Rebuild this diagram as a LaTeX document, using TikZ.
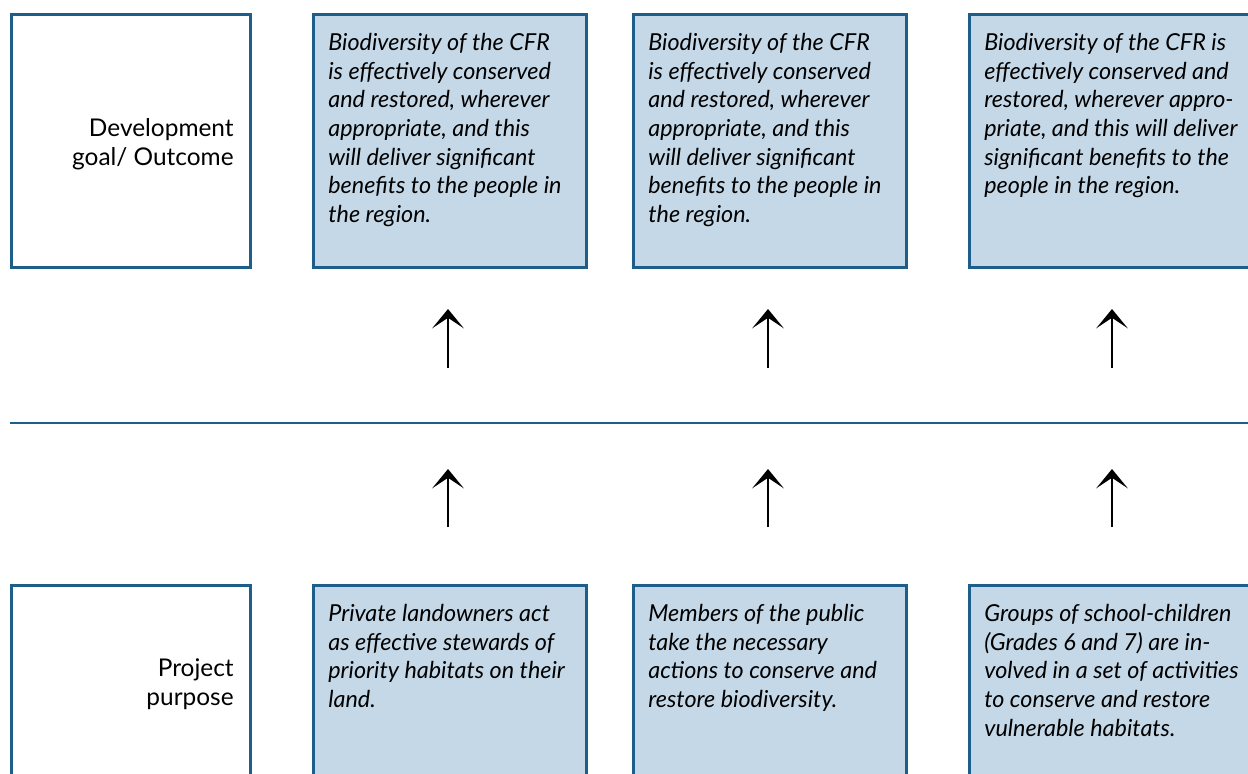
\documentclass[tikz,border=0pt]{standalone}
\usepackage{fontspec}
\setmainfont{Lato}
\usetikzlibrary{arrows.meta,positioning}

\definecolor{frameblue}{HTML}{1D5F8A}
\definecolor{boxfill}{HTML}{C5D8E7}

\tikzset{
	framebox/.style={draw=frameblue, line width=1.7pt, anchor=north west, inner sep=0pt},
	goalbox/.style={framebox, fill=boxfill},
	boxtext/.style={anchor=north west, align=left, inner sep=0pt, font=\itshape\fontsize{13.3}{16.3}\selectfont},
	sidetext/.style={anchor=east, align=right, inner sep=0pt, font=\fontsize{13.9}{16.3}\selectfont},
	uparrow/.style={-{Stealth[length=11pt, width=18pt, inset=6pt]}, line width=1.1pt}
}

\begin{document}
\begin{tikzpicture}[x=0.02cm, y=-0.02cm]
	\useasboundingbox (0, 0) rectangle (1248, 774);
	\clip (0, 0) rectangle (1248, 774);

	% row labels
	\node[framebox, minimum width=4.78cm, minimum height=5.06cm] (goalLabel) at (10, 13) {};
	\node[framebox, minimum width=4.78cm, minimum height=5.06cm] (purposeLabel) at (10, 584) {};
	\node[sidetext] (goalLabelText) at (234, 144) {Development\\goal/ Outcome};
	\node[sidetext] (purposeLabelText) at (234, 684) {Project\\purpose};

	% development goal boxes
	\node[goalbox, minimum width=5.46cm, minimum height=5.06cm] (goalA) at (312, 13) {};
	\node[goalbox, minimum width=5.46cm, minimum height=5.06cm] (goalB) at (632, 13) {};
	\node[goalbox, minimum width=6.00cm, minimum height=5.06cm] (goalC) at (968, 13) {};

	\node[boxtext] (goalAText) at ([shift={(16, 20)}]goalA.north west)
		{Biodiversity of the CFR\\is effectively conserved\\and restored, wherever\\appropriate, and this\\will deliver significant\\benefits to the people in\\the region.};
	\node[boxtext] (goalBText) at ([shift={(16, 20)}]goalB.north west)
		{Biodiversity of the CFR\\is effectively conserved\\and restored, wherever\\appropriate, and this\\will deliver significant\\benefits to the people in\\the region.};
	\node[boxtext] (goalCText) at ([shift={(16, 20)}]goalC.north west)
		{Biodiversity of the CFR is\\effectively conserved and\\restored, wherever appro-\\priate, and this will deliver\\significant benefits to the\\people in the region.};

	% project purpose boxes
	\node[goalbox, minimum width=5.46cm, minimum height=5.06cm] (purposeA) at (312, 584) {};
	\node[goalbox, minimum width=5.46cm, minimum height=5.06cm] (purposeB) at (632, 584) {};
	\node[goalbox, minimum width=6.00cm, minimum height=5.06cm] (purposeC) at (968, 584) {};

	\node[boxtext] (purposeAText) at ([shift={(16, 20)}]purposeA.north west)
		{Private landowners act\\as effective stewards of\\priority habitats on their\\land.};
	\node[boxtext] (purposeBText) at ([shift={(16, 20)}]purposeB.north west)
		{Members of the public\\take the necessary\\actions to conserve and\\restore biodiversity.};
	\node[boxtext] (purposeCText) at ([shift={(16, 20)}]purposeC.north west)
		{Groups of school-children\\(Grades 6 and 7) are in-\\volved in a set of activities\\to conserve and restore\\vulnerable habitats.};

	% dividing line
	\coordinate (lineStart) at (10, 423);
	\coordinate (lineEnd) at (1260, 423);
	\draw[frameblue, line width=1.7pt] (lineStart) -- (lineEnd);

	% arrows
	\coordinate (upA1) at (448, 368); \coordinate (upA2) at (448, 309);
	\coordinate (upB1) at (768, 368); \coordinate (upB2) at (768, 309);
	\coordinate (upC1) at (1112, 368); \coordinate (upC2) at (1112, 309);
	\coordinate (loA1) at (448, 527); \coordinate (loA2) at (448, 469);
	\coordinate (loB1) at (768, 527); \coordinate (loB2) at (768, 469);
	\coordinate (loC1) at (1112, 527); \coordinate (loC2) at (1112, 469);

	\draw[uparrow] (upA1) -- (upA2);
	\draw[uparrow] (upB1) -- (upB2);
	\draw[uparrow] (upC1) -- (upC2);
	\draw[uparrow] (loA1) -- (loA2);
	\draw[uparrow] (loB1) -- (loB2);
	\draw[uparrow] (loC1) -- (loC2);

\end{tikzpicture}
\end{document}
